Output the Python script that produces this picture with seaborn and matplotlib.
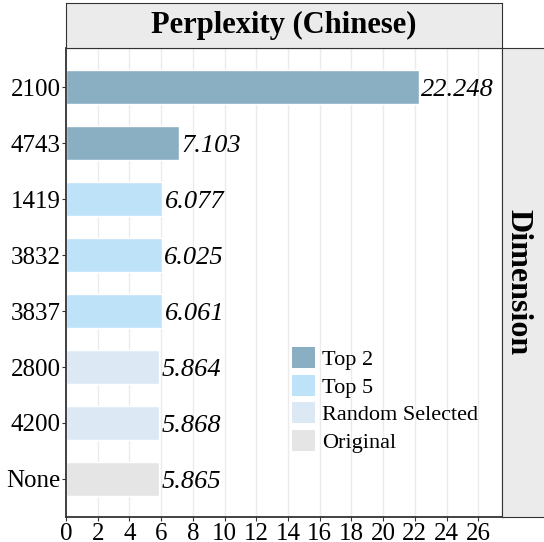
import matplotlib
matplotlib.use("Agg")
import matplotlib.pyplot as plt
from matplotlib.patches import Patch
import pandas as pd
import seaborn as sns

dims = ["2100", "4743", "1419", "3832", "3837", "2800", "4200", "None"]
ppl = [22.248, 7.103, 6.077, 6.025, 6.061, 5.864, 5.868, 5.865]
groups = ["Top 2", "Top 2", "Top 5", "Top 5", "Top 5",
          "Random Selected", "Random Selected", "Original"]
group_order = ["Top 2", "Top 5", "Random Selected", "Original"]
colors = ["#8AAFC2", "#BEE3F8", "#DCE9F5", "#E5E5E5"]
xticks = list(range(0, 27, 2))

sns.set_theme(style="white")
plt.rcParams["font.family"] = ["Liberation Serif", "DejaVu Serif"]
plt.rcParams["text.color"] = "black"
plt.rcParams["xtick.color"] = "black"
plt.rcParams["ytick.color"] = "black"

df = pd.DataFrame({"dim": dims, "ppl": ppl, "group": groups})
palette = dict(zip(group_order, colors))

fig = plt.figure(figsize=(5.44, 5.42), dpi=100)
ax = fig.add_axes([0.1213, 0.0461, 0.8015, 0.8653])

sns.barplot(data=df, x="ppl", y="dim", hue="group", order=dims,
            hue_order=group_order, palette=palette, dodge=False,
            width=0.6, legend=False, ax=ax, saturation=1)

for i, v in enumerate(ppl):
    ax.text(v + 0.15, i + 0.05, f"{v:.3f}", va="center", ha="left",
            fontsize=19, fontstyle="italic", color="black")

ax.set_xlim(0, 27.5)
ax.set_ylim(7.68, -0.7)
ax.set_xticks(xticks)
ax.set_xlabel("")
ax.set_ylabel("")
ax.grid(axis="x", color="#EBEBEB", lw=1)
ax.set_axisbelow(True)
ax.tick_params(axis="both", labelsize=18, length=3, width=0.8,
               color="#333333", pad=1, left=True, bottom=True)
for s in ax.spines.values():
    s.set_color("#333333")
    s.set_linewidth(0.8)
ax.spines["left"].set_linewidth(1.3)
ax.spines["bottom"].set_linewidth(1.3)

handles = [Patch(facecolor=c, edgecolor="none", label=g)
           for g, c in zip(group_order, colors)]
ax.legend(handles=handles, loc="upper left", bbox_to_anchor=(0.497, 0.381),
          frameon=False, fontsize=16, handlelength=1.07, handleheight=1.07,
          labelspacing=0.2, handletextpad=0.3, borderaxespad=0)

# facet strips
top = fig.add_axes([0.1213, 0.9114, 0.8015, 0.083])
top.set_facecolor("#EBEBEB")
top.set_xticks([])
top.set_yticks([])
for s in top.spines.values():
    s.set_color("#333333")
    s.set_linewidth(0.8)
top.text(0.5, 0.5, "Perplexity (Chinese)", ha="center", va="center",
         fontsize=22, fontweight="bold", transform=top.transAxes)

right = fig.add_axes([0.9228, 0.0461, 0.1, 0.8653])
right.set_facecolor("#EBEBEB")
right.set_xticks([])
right.set_yticks([])
for s in right.spines.values():
    s.set_color("#333333")
    s.set_linewidth(0.8)
right.text(0.29, 0.5, "Dimension", ha="center", va="center", rotation=-90,
           fontsize=23, fontweight="bold", transform=right.transAxes)

fig.savefig("out.png", dpi=100)
